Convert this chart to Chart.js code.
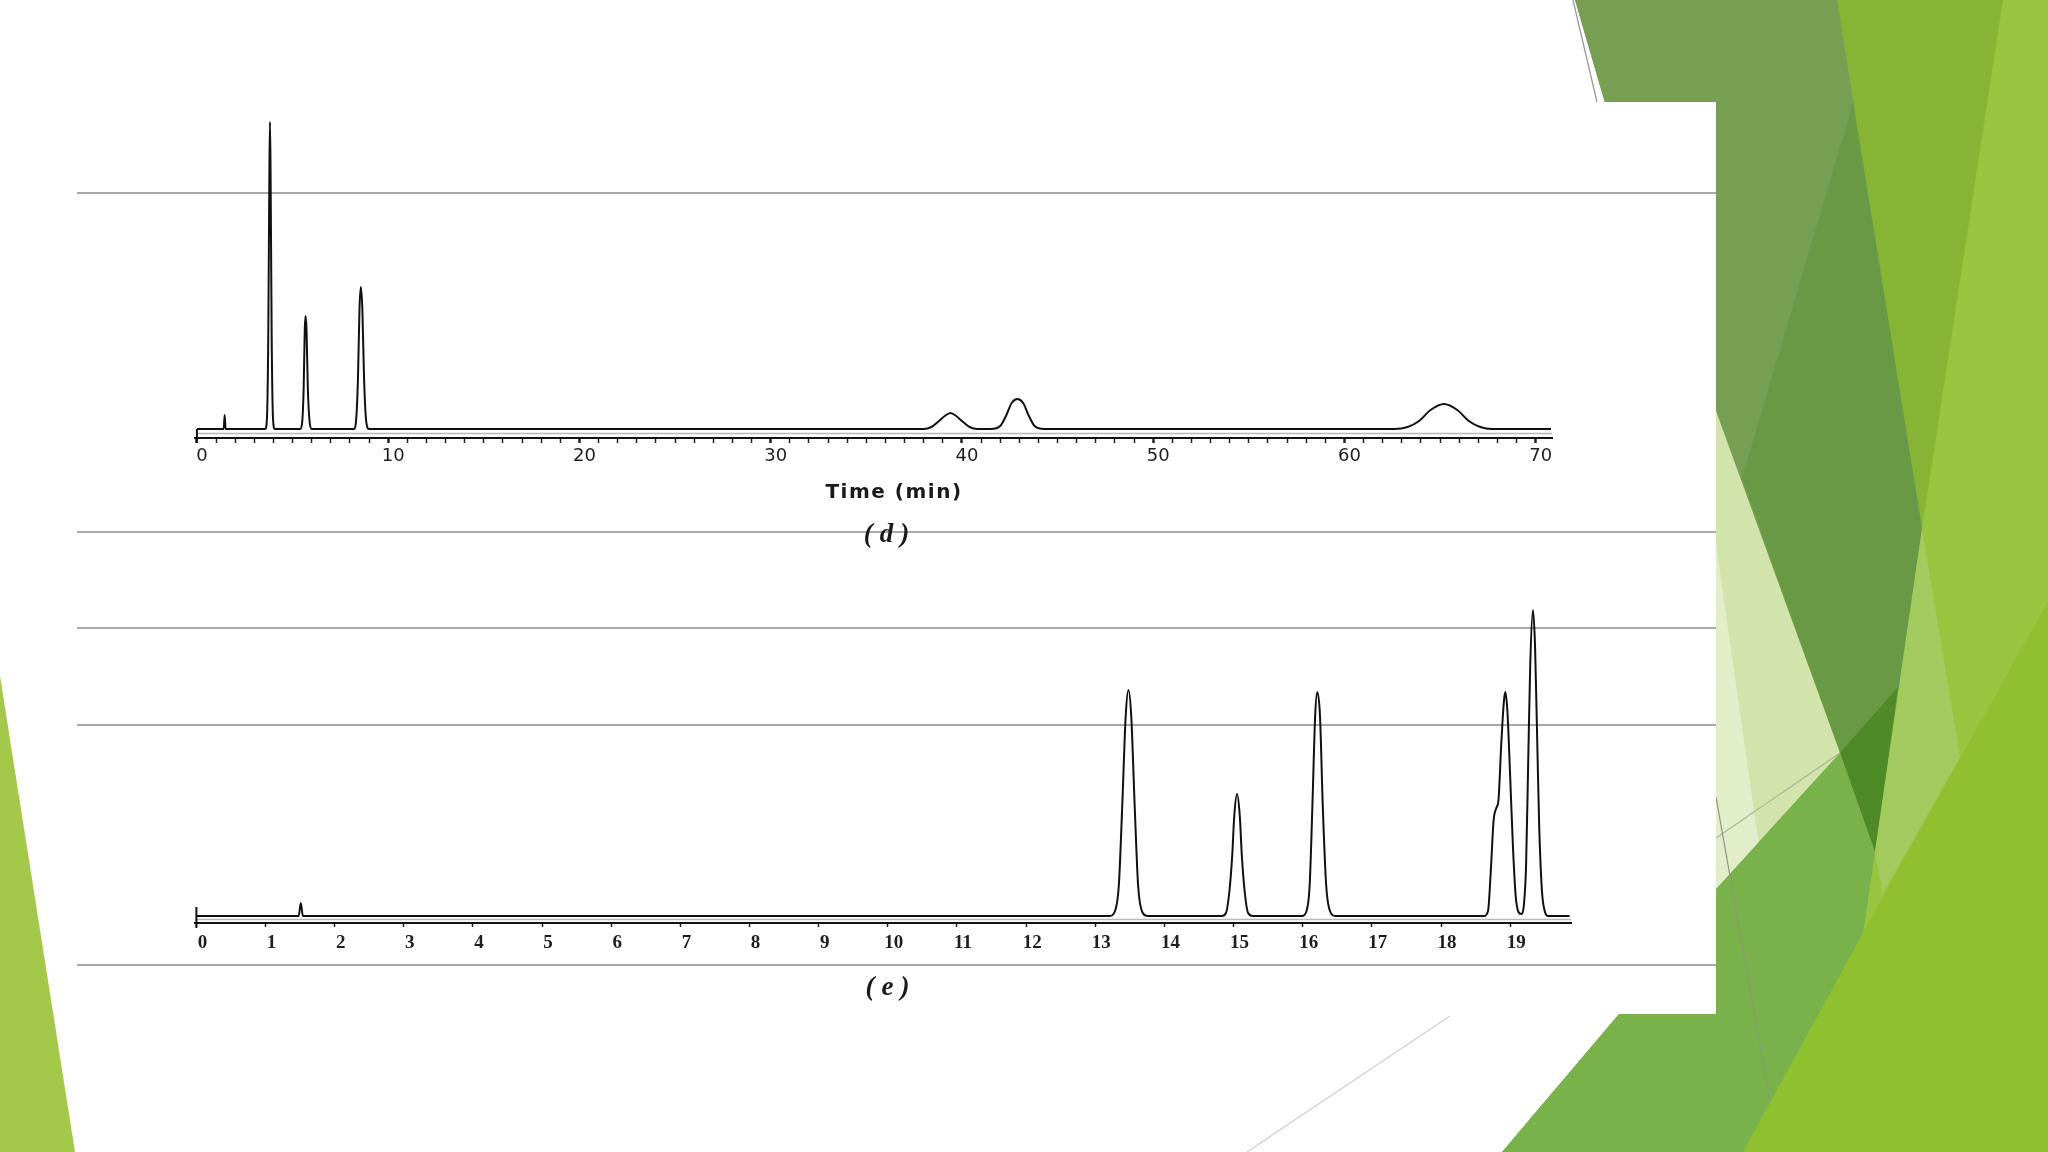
<!DOCTYPE html>
<html><head><meta charset="utf-8">
<script src="https://cdn.jsdelivr.net/npm/chart.js@4/dist/chart.umd.min.js"></script>
<style>
html,body{margin:0;padding:0;background:#fff;overflow:hidden;}
#stage{position:relative;width:2048px;height:1152px;overflow:hidden;background:#fff;}
#bg{position:absolute;left:0;top:0;}
canvas{position:absolute;}
.lbl{position:absolute;white-space:nowrap;color:#1a1a1a;transform:translate(-50%,-50%);}
</style></head><body>
<div id="stage">
<svg id="bg" width="2048" height="1152" viewBox="0 0 2048 1152">
  <polygon points="0,676 0,1152 75,1152" fill="#a3c84a"/>
  <polygon points="1575,0 2048,0 2048,1152 1502,1152 1619,1014 1700,900 1700,200 1605,103" fill="#86b535"/>
  <polygon points="2003,0 2048,0 2048,602 1863,933 1922,529" fill="#98c540"/>
  <polygon points="1575,0 1837,0 1922,529 1840,753 1716,411 1605,103" fill="#769f53"/>
  <polygon points="1853,103 1922,529 1875,852 1840,753 1742,478" fill="#699945"/>
  <polygon points="1716,411 1840,753 1716,889" fill="#d2e4ab"/>
  <polygon points="1716,544 1763,874 1716,889" fill="#e2edc9"/>
  <polygon points="1840,753 1898,687 1875,852" fill="#4e8a25"/>
  <polygon points="1922,529 1960,757 1883,893 1875,852" fill="#a3ca5e"/>
  <polygon points="1716,889 1840,753 1875,852 1863,933 1743,1152 1502,1152 1619,1014 1716,1014" fill="#79b24b"/>
  <polygon points="1743,1152 1863,933 2048,602 2048,1152" fill="#8fc02f"/>
  <line x1="1716" y1="838" x2="1840" y2="753" stroke="#a9b596" stroke-width="1.2"/>
  <line x1="1716" y1="797" x2="1770" y2="1102" stroke="#8a9a78" stroke-width="1.2"/>
  <line x1="1573" y1="0" x2="1597" y2="102" stroke="#9a9a9a" stroke-width="1.3"/>
  <line x1="1450" y1="1016" x2="1247" y2="1152" stroke="#cfcfcf" stroke-width="1.2"/>
  <rect x="77" y="102" width="1639" height="912" fill="#ffffff"/>
  <g stroke="#a8a8a8" stroke-width="2">
    <line x1="77" y1="193" x2="1716" y2="193"/>
    <line x1="77" y1="532" x2="1716" y2="532"/>
    <line x1="77" y1="628" x2="1716" y2="628"/>
    <line x1="77" y1="725" x2="1716" y2="725"/>
    <line x1="77" y1="965" x2="1716" y2="965"/>
  </g>
</svg>
<canvas id="chartD"></canvas>
<canvas id="chartE"></canvas>
<div class="lbl" id="titleD" style="left:894px;top:491px;font:bold 20px 'DejaVu Sans';letter-spacing:1.5px;"></div>
<div class="lbl" id="tagD" style="left:890px;top:533px;font:italic bold 27px 'Liberation Serif';letter-spacing:7px;"></div>
<div class="lbl" id="tagE" style="left:891px;top:986px;font:italic bold 27px 'Liberation Serif';letter-spacing:7px;"></div>
</div>
<script>
// ---- data: chromatogram (d), time in min, detector signal (arbitrary units)
const timeD = [0, 1.40, 1.45, 1.50,
  3.57, 3.66, 3.73, 3.79, 3.82, 3.85, 3.91, 3.98, 4.07,
  5.40, 5.50, 5.58, 5.64, 5.68, 5.73, 5.80, 5.90, 6.00,
  8.20, 8.32, 8.42, 8.50, 8.57, 8.65, 8.74, 8.85, 9.00,
  38.0, 38.4, 38.8, 39.1, 39.4, 39.7, 40.0, 40.4, 40.8,
  41.5, 42.0, 42.3, 42.6, 42.9, 43.2, 43.5, 43.8, 44.3,
  62.6, 63.3, 63.9, 64.5, 65.2, 65.9, 66.5, 67.1, 67.7, 70.8];
const signalD = [0, 0, 14, 0,
  0, 10, 90, 260, 307, 260, 90, 10, 0,
  0, 6, 40, 100, 113, 100, 40, 6, 0,
  0, 8, 50, 120, 142, 120, 50, 8, 0,
  0, 2, 8, 13, 16, 13, 8, 2, 0,
  0, 3, 13, 26, 30, 26, 13, 3, 0,
  0, 2, 8, 19, 25, 19, 8, 2, 0, 0];
// ---- data: chromatogram (e)
const timeE = [0, 1.48, 1.51, 1.54,
  13.21, 13.28, 13.34, 13.39, 13.44, 13.48, 13.52, 13.57, 13.62, 13.68, 13.76,
  14.83, 14.89, 14.94, 14.98, 15.01, 15.05, 15.09, 15.12, 15.16, 15.21, 15.28,
  15.99, 16.05, 16.10, 16.14, 16.18, 16.21, 16.25, 16.29, 16.34, 16.40, 16.47,
  18.62, 18.68, 18.72, 18.76, 18.80, 18.83, 18.87, 18.91, 18.93, 18.96, 19.00, 19.04, 19.08, 19.12, 19.16,
  19.20, 19.23, 19.26, 19.29, 19.33, 19.36, 19.39, 19.42, 19.46, 19.50, 19.55, 19.86];
const signalE = [0, 0, 13, 0,
  0, 4, 30, 110, 200, 226, 200, 110, 30, 4, 0,
  0, 3, 25, 60, 100, 122, 100, 60, 25, 3, 0,
  0, 4, 30, 110, 200, 224, 200, 110, 30, 4, 0,
  0, 5, 45, 95, 108, 115, 170, 215, 224, 205, 140, 70, 20, 4, 2,
  12, 50, 150, 250, 306, 270, 180, 90, 25, 5, 0, 0];
// ---- axes and texts
const axisRangeD = [-0.1, 70.85];
const axisRangeE = [-0.02, 19.88];
const majorStepD = 10;
const axisTitleD = 'Time (min)';
const panelTags = ['(d)', '(e)'];

document.getElementById('titleD').textContent = axisTitleD;
document.getElementById('tagD').textContent = panelTags[0];
document.getElementById('tagE').textContent = panelTags[1];

const startBar = {
  id: 'startBar',
  afterDatasetsDraw(chart, args, o) {
    const ctx = chart.ctx, xs = chart.scales.x, ys = chart.scales.y, a = chart.chartArea;
    ctx.save();
    ctx.strokeStyle = 'rgba(0,0,0,0.28)';
    ctx.lineWidth = 1.5;
    const yg = ys.getPixelForValue(o.ghost);
    ctx.beginPath(); ctx.moveTo(xs.getPixelForValue(0), yg); ctx.lineTo(a.right, yg); ctx.stroke();
    const x = xs.getPixelForValue(0);
    const yb = ys.getPixelForValue(0);
    ctx.strokeStyle = '#111';
    ctx.lineWidth = 2;
    ctx.beginPath(); ctx.moveTo(x, yb - o.up); ctx.lineTo(x, a.bottom + o.down); ctx.stroke();
    ctx.restore();
  }
};

function build(id, times, sig, range, px0, pxPerMin, yRange, axisY, axisH, tickOpts, gridTickWidth, labelFont, labelPad, tickLen, barOpts) {
  const PAD = 30, PAD_T = 10;
  const areaLeft = px0 + range[0] * pxPerMin;
  const areaW = Math.round((range[1] - range[0]) * pxPerMin);
  const areaTop = axisY - (yRange[1] - yRange[0]);
  const cv = document.getElementById(id);
  const left = Math.round(areaLeft - PAD);
  const top = Math.round(areaTop - PAD_T);
  cv.style.left = left + 'px';
  cv.style.top = top + 'px';
  cv.width = areaW + 2 * PAD;
  cv.height = (axisY - top) + axisH;
  const pts = times.map((t, i) => ({x: t, y: sig[i]}));
  return new Chart(cv, {
    type: 'scatter',
    data: {datasets: [{data: pts, showLine: true, borderColor: '#111', borderWidth: 2,
      pointRadius: 0, cubicInterpolationMode: 'monotone', fill: false}]},
    options: {
      responsive: false, maintainAspectRatio: false, animation: false, events: [],
      layout: {padding: {left: PAD, right: PAD, top: PAD_T, bottom: 0}},
      plugins: {legend: {display: false}, tooltip: {enabled: false}, startBar: barOpts},
      scales: {
        x: {
          type: 'linear', position: 'bottom', min: range[0], max: range[1],
          afterFit: s => { s.height = axisH; },
          border: {display: true, color: '#111', width: 2},
          grid: {drawOnChartArea: false, drawTicks: true, tickLength: tickLen, tickColor: '#222', tickWidth: gridTickWidth},
          ticks: Object.assign({autoSkip: false, maxRotation: 0, minRotation: 0, includeBounds: false,
            maxTicksLimit: 200, padding: labelPad, color: '#1e1e1e', font: labelFont}, tickOpts)
        },
        y: {display: false, min: yRange[0], max: yRange[1]}
      }
    },
    plugins: [startBar]
  });
}

build('chartD', timeD, signalD, axisRangeD, 197, 19.13, [-9, 320], 438, 60,
  {stepSize: 1, labelOffset: 5, callback: v => (Math.abs(v % majorStepD) < 1e-6 ? String(Math.round(v)) : '')},
  c => (c.tick && Math.abs(c.tick.value % majorStepD) < 1e-6) ? 2.5 : 1.5,
  {family: 'DejaVu Sans', size: 18}, 3, 5, {up: 0, down: 5, ghost: -4.5});

build('chartE', timeE, signalE, axisRangeE, 196, 69.16, [-7, 320], 923, 50,
  {stepSize: 1, labelOffset: 6, callback: v => String(Math.round(v))},
  1.5,
  {family: 'Liberation Serif', size: 19, weight: 'bold'}, 5, 4, {up: 9, down: 5, ghost: -3.5});
</script>
</body></html>
